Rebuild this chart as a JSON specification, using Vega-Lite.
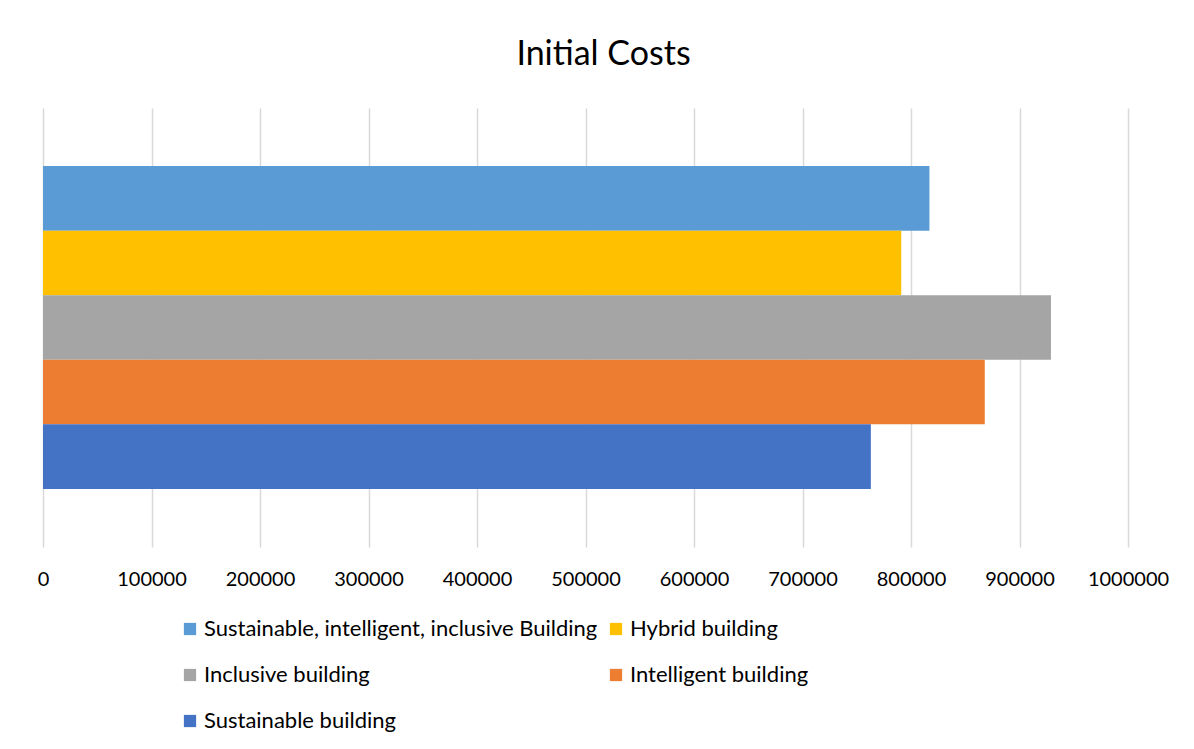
{
  "$schema": "https://vega.github.io/schema/vega-lite/v6.json",
  "width": 1085,
  "height": 439,
  "autosize": {"type": "none"},
  "padding": {"left": 43, "top": 108, "right": 66, "bottom": 202},
  "background": "white",
  "title": {
    "text": "Initial Costs",
    "font": "Lato",
    "fontSize": 34,
    "fontWeight": "normal",
    "color": "#000000",
    "anchor": "middle",
    "dx": 18,
    "offset": 36
  },
  "data": {
    "values": [
      {"series": "Sustainable, intelligent, inclusive Building", "cost": 817000},
      {"series": "Hybrid building", "cost": 791000},
      {"series": "Inclusive building", "cost": 929000},
      {"series": "Intelligent building", "cost": 868000},
      {"series": "Sustainable building", "cost": 763000}
    ]
  },
  "mark": {"type": "bar"},
  "encoding": {
    "y": {
      "field": "series",
      "type": "nominal",
      "sort": ["Sustainable, intelligent, inclusive Building", "Hybrid building", "Inclusive building", "Intelligent building", "Sustainable building"],
      "scale": {"paddingInner": 0, "paddingOuter": 0.9},
      "axis": null
    },
    "x": {
      "field": "cost",
      "type": "quantitative",
      "scale": {"domain": [0, 1000000], "nice": false},
      "axis": {
        "values": [0, 100000, 200000, 300000, 400000, 500000, 600000, 700000, 800000, 900000, 1000000],
        "format": "d",
        "title": null,
        "domain": false,
        "ticks": false,
        "labelPadding": 22,
        "labelFont": "Lato",
        "labelFontSize": 20,
        "labelColor": "#000000",
        "labelOverlap": false,
        "labelFlush": false,
        "labelBound": false,
        "grid": true,
        "gridColor": "#d9d9d9",
        "gridWidth": 1.5
      }
    },
    "color": {
      "field": "series",
      "type": "nominal",
      "scale": {
        "domain": ["Sustainable, intelligent, inclusive Building", "Hybrid building", "Inclusive building", "Intelligent building", "Sustainable building"],
        "range": ["#5B9BD5", "#FFC000", "#A5A5A5", "#ED7D31", "#4472C4"]
      },
      "legend": {
        "title": null,
        "orient": "none",
        "legendX": 136,
        "legendY": 510,
        "columns": 2,
        "values": ["Sustainable, intelligent, inclusive Building", "Inclusive building", "Sustainable building", "Hybrid building", "Intelligent building"],
        "columnPadding": 7,
        "rowPadding": 24,
        "symbolType": "square",
        "symbolSize": 150,
        "symbolStrokeWidth": 0,
        "labelFont": "Lato",
        "labelFontSize": 22,
        "labelColor": "#000000",
        "labelLimit": 0,
        "labelOffset": 3,
        "padding": 0
      }
    }
  },
  "config": {
    "view": {"stroke": null}
  }
}
